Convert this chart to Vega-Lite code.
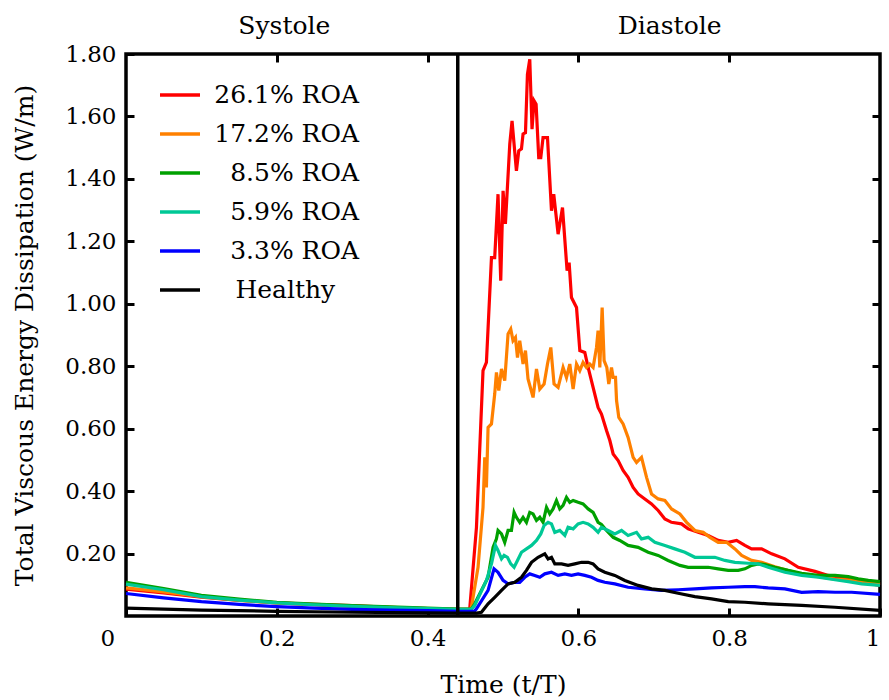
{
  "$schema": "https://vega.github.io/schema/vega-lite/v6.json",
  "width": 754,
  "height": 562,
  "autosize": {"type": "none"},
  "padding": {"left": 126, "top": 54, "right": 9, "bottom": 84},
  "background": "white",
  "datasets": {
    "curves": [
      {"s":"26.1% ROA","t":0,"v":0.086},{"s":"26.1% ROA","t":0.05,"v":0.074},{"s":"26.1% ROA","t":0.1,"v":0.060},{"s":"26.1% ROA","t":0.15,"v":0.050},{"s":"26.1% ROA","t":0.2,"v":0.042},{"s":"26.1% ROA","t":0.25,"v":0.037},{"s":"26.1% ROA","t":0.3,"v":0.033},{"s":"26.1% ROA","t":0.35,"v":0.028},{"s":"26.1% ROA","t":0.4,"v":0.024},{"s":"26.1% ROA","t":0.44,"v":0.021},{"s":"26.1% ROA","t":0.455,"v":0.021},
      {"s":"26.1% ROA","t":0.4559,"v":0.024},{"s":"26.1% ROA","t":0.4648,"v":0.284},{"s":"26.1% ROA","t":0.4735,"v":0.786},{"s":"26.1% ROA","t":0.478,"v":0.812},{"s":"26.1% ROA","t":0.4847,"v":1.148},{"s":"26.1% ROA","t":0.489,"v":1.148},{"s":"26.1% ROA","t":0.4934,"v":1.351},{"s":"26.1% ROA","t":0.497,"v":1.074},{"s":"26.1% ROA","t":0.5001,"v":1.362},{"s":"26.1% ROA","t":0.5032,"v":1.256},{"s":"26.1% ROA","t":0.509,"v":1.512},{"s":"26.1% ROA","t":0.512,"v":1.586},{"s":"26.1% ROA","t":0.5178,"v":1.426},{"s":"26.1% ROA","t":0.5209,"v":1.49},{"s":"26.1% ROA","t":0.5245,"v":1.496},{"s":"26.1% ROA","t":0.5266,"v":1.544},{"s":"26.1% ROA","t":0.5298,"v":1.548},{"s":"26.1% ROA","t":0.5324,"v":1.735},{"s":"26.1% ROA","t":0.5355,"v":1.783},{"s":"26.1% ROA","t":0.5385,"v":1.559},{"s":"26.1% ROA","t":0.5412,"v":1.65},{"s":"26.1% ROA","t":0.5439,"v":1.639},{"s":"26.1% ROA","t":0.5474,"v":1.468},{"s":"26.1% ROA","t":0.5501,"v":1.468},{"s":"26.1% ROA","t":0.5531,"v":1.532},{"s":"26.1% ROA","t":0.559,"v":1.532},{"s":"26.1% ROA","t":0.5643,"v":1.298},{"s":"26.1% ROA","t":0.5673,"v":1.351},{"s":"26.1% ROA","t":0.5731,"v":1.223},{"s":"26.1% ROA","t":0.5789,"v":1.308},{"s":"26.1% ROA","t":0.585,"v":1.106},{"s":"26.1% ROA","t":0.5877,"v":1.132},{"s":"26.1% ROA","t":0.5908,"v":1.02},{"s":"26.1% ROA","t":0.5975,"v":0.988},{"s":"26.1% ROA","t":0.6019,"v":0.85},{"s":"26.1% ROA","t":0.6085,"v":0.844},{"s":"26.1% ROA","t":0.6129,"v":0.796},{"s":"26.1% ROA","t":0.6195,"v":0.732},{"s":"26.1% ROA","t":0.6261,"v":0.668},{"s":"26.1% ROA","t":0.6306,"v":0.647},{"s":"26.1% ROA","t":0.6373,"v":0.594},{"s":"26.1% ROA","t":0.6417,"v":0.562},{"s":"26.1% ROA","t":0.6461,"v":0.519},{"s":"26.1% ROA","t":0.6527,"v":0.498},{"s":"26.1% ROA","t":0.6593,"v":0.466},{"s":"26.1% ROA","t":0.6659,"v":0.444},{"s":"26.1% ROA","t":0.6726,"v":0.412},{"s":"26.1% ROA","t":0.6792,"v":0.391},{"s":"26.1% ROA","t":0.6881,"v":0.375},{"s":"26.1% ROA","t":0.697,"v":0.359},{"s":"26.1% ROA","t":0.7058,"v":0.338},{"s":"26.1% ROA","t":0.7147,"v":0.311},{"s":"26.1% ROA","t":0.7235,"v":0.3},{"s":"26.1% ROA","t":0.7368,"v":0.295},{"s":"26.1% ROA","t":0.7456,"v":0.279},{"s":"26.1% ROA","t":0.7588,"v":0.268},{"s":"26.1% ROA","t":0.7721,"v":0.258},{"s":"26.1% ROA","t":0.7854,"v":0.242},{"s":"26.1% ROA","t":0.7987,"v":0.236},{"s":"26.1% ROA","t":0.8098,"v":0.242},{"s":"26.1% ROA","t":0.8208,"v":0.226},{"s":"26.1% ROA","t":0.8297,"v":0.215},{"s":"26.1% ROA","t":0.843,"v":0.215},{"s":"26.1% ROA","t":0.8563,"v":0.199},{"s":"26.1% ROA","t":0.8739,"v":0.183},{"s":"26.1% ROA","t":0.8916,"v":0.156},{"s":"26.1% ROA","t":0.9137,"v":0.143},{"s":"26.1% ROA","t":0.9314,"v":0.13},{"s":"26.1% ROA","t":0.9536,"v":0.119},{"s":"26.1% ROA","t":0.9757,"v":0.108},{"s":"26.1% ROA","t":1.0,"v":0.098},

      {"s":"17.2% ROA","t":0,"v":0.09},{"s":"17.2% ROA","t":0.05,"v":0.077},{"s":"17.2% ROA","t":0.1,"v":0.062},{"s":"17.2% ROA","t":0.15,"v":0.051},{"s":"17.2% ROA","t":0.2,"v":0.042},{"s":"17.2% ROA","t":0.25,"v":0.036},{"s":"17.2% ROA","t":0.3,"v":0.031},{"s":"17.2% ROA","t":0.35,"v":0.027},{"s":"17.2% ROA","t":0.4,"v":0.023},{"s":"17.2% ROA","t":0.44,"v":0.021},{"s":"17.2% ROA","t":0.457,"v":0.021},
      {"s":"17.2% ROA","t":0.4581,"v":0.028},{"s":"17.2% ROA","t":0.4669,"v":0.156},{"s":"17.2% ROA","t":0.4735,"v":0.348},{"s":"17.2% ROA","t":0.4758,"v":0.508},{"s":"17.2% ROA","t":0.478,"v":0.412},{"s":"17.2% ROA","t":0.4802,"v":0.604},{"s":"17.2% ROA","t":0.4847,"v":0.615},{"s":"17.2% ROA","t":0.489,"v":0.711},{"s":"17.2% ROA","t":0.4913,"v":0.78},{"s":"17.2% ROA","t":0.4944,"v":0.722},{"s":"17.2% ROA","t":0.498,"v":0.791},{"s":"17.2% ROA","t":0.5023,"v":0.754},{"s":"17.2% ROA","t":0.5067,"v":0.903},{"s":"17.2% ROA","t":0.5103,"v":0.919},{"s":"17.2% ROA","t":0.5133,"v":0.882},{"s":"17.2% ROA","t":0.5165,"v":0.892},{"s":"17.2% ROA","t":0.5192,"v":0.828},{"s":"17.2% ROA","t":0.5222,"v":0.882},{"s":"17.2% ROA","t":0.5266,"v":0.807},{"s":"17.2% ROA","t":0.5298,"v":0.85},{"s":"17.2% ROA","t":0.5332,"v":0.759},{"s":"17.2% ROA","t":0.5399,"v":0.7},{"s":"17.2% ROA","t":0.5444,"v":0.791},{"s":"17.2% ROA","t":0.5488,"v":0.727},{"s":"17.2% ROA","t":0.5545,"v":0.743},{"s":"17.2% ROA","t":0.559,"v":0.807},{"s":"17.2% ROA","t":0.5634,"v":0.86},{"s":"17.2% ROA","t":0.5677,"v":0.743},{"s":"17.2% ROA","t":0.5731,"v":0.732},{"s":"17.2% ROA","t":0.5797,"v":0.796},{"s":"17.2% ROA","t":0.5842,"v":0.764},{"s":"17.2% ROA","t":0.5886,"v":0.807},{"s":"17.2% ROA","t":0.593,"v":0.727},{"s":"17.2% ROA","t":0.5975,"v":0.807},{"s":"17.2% ROA","t":0.6019,"v":0.786},{"s":"17.2% ROA","t":0.6062,"v":0.812},{"s":"17.2% ROA","t":0.6107,"v":0.796},{"s":"17.2% ROA","t":0.6151,"v":0.807},{"s":"17.2% ROA","t":0.6195,"v":0.796},{"s":"17.2% ROA","t":0.624,"v":0.86},{"s":"17.2% ROA","t":0.6261,"v":0.914},{"s":"17.2% ROA","t":0.6284,"v":0.796},{"s":"17.2% ROA","t":0.6315,"v":0.988},{"s":"17.2% ROA","t":0.6341,"v":0.818},{"s":"17.2% ROA","t":0.6377,"v":0.796},{"s":"17.2% ROA","t":0.6403,"v":0.743},{"s":"17.2% ROA","t":0.6439,"v":0.796},{"s":"17.2% ROA","t":0.6461,"v":0.764},{"s":"17.2% ROA","t":0.6492,"v":0.764},{"s":"17.2% ROA","t":0.6506,"v":0.69},{"s":"17.2% ROA","t":0.6536,"v":0.636},{"s":"17.2% ROA","t":0.6593,"v":0.615},{"s":"17.2% ROA","t":0.6659,"v":0.572},{"s":"17.2% ROA","t":0.6726,"v":0.508},{"s":"17.2% ROA","t":0.6771,"v":0.492},{"s":"17.2% ROA","t":0.6837,"v":0.508},{"s":"17.2% ROA","t":0.6904,"v":0.444},{"s":"17.2% ROA","t":0.697,"v":0.391},{"s":"17.2% ROA","t":0.7058,"v":0.375},{"s":"17.2% ROA","t":0.7147,"v":0.37},{"s":"17.2% ROA","t":0.7235,"v":0.343},{"s":"17.2% ROA","t":0.7346,"v":0.327},{"s":"17.2% ROA","t":0.7435,"v":0.3},{"s":"17.2% ROA","t":0.7545,"v":0.274},{"s":"17.2% ROA","t":0.7655,"v":0.268},{"s":"17.2% ROA","t":0.7744,"v":0.252},{"s":"17.2% ROA","t":0.7854,"v":0.236},{"s":"17.2% ROA","t":0.7966,"v":0.236},{"s":"17.2% ROA","t":0.8076,"v":0.215},{"s":"17.2% ROA","t":0.8165,"v":0.194},{"s":"17.2% ROA","t":0.8297,"v":0.178},{"s":"17.2% ROA","t":0.843,"v":0.172},{"s":"17.2% ROA","t":0.8607,"v":0.158},{"s":"17.2% ROA","t":0.878,"v":0.146},{"s":"17.2% ROA","t":0.896,"v":0.134},{"s":"17.2% ROA","t":0.918,"v":0.126},{"s":"17.2% ROA","t":0.94,"v":0.118},{"s":"17.2% ROA","t":0.962,"v":0.114},{"s":"17.2% ROA","t":0.984,"v":0.107},{"s":"17.2% ROA","t":1.0,"v":0.102},

      {"s":"8.5% ROA","t":0,"v":0.108},{"s":"8.5% ROA","t":0.05,"v":0.088},{"s":"8.5% ROA","t":0.1,"v":0.066},{"s":"8.5% ROA","t":0.15,"v":0.054},{"s":"8.5% ROA","t":0.2,"v":0.044},{"s":"8.5% ROA","t":0.25,"v":0.038},{"s":"8.5% ROA","t":0.3,"v":0.033},{"s":"8.5% ROA","t":0.35,"v":0.029},{"s":"8.5% ROA","t":0.4,"v":0.025},{"s":"8.5% ROA","t":0.44,"v":0.022},{"s":"8.5% ROA","t":0.458,"v":0.022},
      {"s":"8.5% ROA","t":0.4625,"v":0.039},{"s":"8.5% ROA","t":0.4802,"v":0.124},{"s":"8.5% ROA","t":0.4868,"v":0.22},{"s":"8.5% ROA","t":0.4913,"v":0.247},{"s":"8.5% ROA","t":0.4934,"v":0.274},{"s":"8.5% ROA","t":0.498,"v":0.263},{"s":"8.5% ROA","t":0.5023,"v":0.236},{"s":"8.5% ROA","t":0.5067,"v":0.274},{"s":"8.5% ROA","t":0.5112,"v":0.274},{"s":"8.5% ROA","t":0.5147,"v":0.332},{"s":"8.5% ROA","t":0.5178,"v":0.316},{"s":"8.5% ROA","t":0.5222,"v":0.3},{"s":"8.5% ROA","t":0.5266,"v":0.316},{"s":"8.5% ROA","t":0.5311,"v":0.3},{"s":"8.5% ROA","t":0.5355,"v":0.332},{"s":"8.5% ROA","t":0.5399,"v":0.327},{"s":"8.5% ROA","t":0.5444,"v":0.306},{"s":"8.5% ROA","t":0.5488,"v":0.316},{"s":"8.5% ROA","t":0.5531,"v":0.3},{"s":"8.5% ROA","t":0.5577,"v":0.348},{"s":"8.5% ROA","t":0.562,"v":0.327},{"s":"8.5% ROA","t":0.5664,"v":0.343},{"s":"8.5% ROA","t":0.5709,"v":0.37},{"s":"8.5% ROA","t":0.5753,"v":0.343},{"s":"8.5% ROA","t":0.5797,"v":0.354},{"s":"8.5% ROA","t":0.5842,"v":0.38},{"s":"8.5% ROA","t":0.5886,"v":0.364},{"s":"8.5% ROA","t":0.593,"v":0.37},{"s":"8.5% ROA","t":0.5996,"v":0.364},{"s":"8.5% ROA","t":0.6062,"v":0.359},{"s":"8.5% ROA","t":0.6129,"v":0.343},{"s":"8.5% ROA","t":0.6195,"v":0.332},{"s":"8.5% ROA","t":0.6261,"v":0.3},{"s":"8.5% ROA","t":0.6306,"v":0.293},{"s":"8.5% ROA","t":0.6373,"v":0.274},{"s":"8.5% ROA","t":0.6461,"v":0.252},{"s":"8.5% ROA","t":0.6549,"v":0.242},{"s":"8.5% ROA","t":0.6659,"v":0.226},{"s":"8.5% ROA","t":0.6792,"v":0.22},{"s":"8.5% ROA","t":0.6925,"v":0.204},{"s":"8.5% ROA","t":0.7058,"v":0.194},{"s":"8.5% ROA","t":0.719,"v":0.178},{"s":"8.5% ROA","t":0.7346,"v":0.162},{"s":"8.5% ROA","t":0.7456,"v":0.156},{"s":"8.5% ROA","t":0.7588,"v":0.156},{"s":"8.5% ROA","t":0.7721,"v":0.156},{"s":"8.5% ROA","t":0.7854,"v":0.151},{"s":"8.5% ROA","t":0.7987,"v":0.146},{"s":"8.5% ROA","t":0.812,"v":0.146},{"s":"8.5% ROA","t":0.8208,"v":0.151},{"s":"8.5% ROA","t":0.8297,"v":0.162},{"s":"8.5% ROA","t":0.8385,"v":0.167},{"s":"8.5% ROA","t":0.8474,"v":0.165},{"s":"8.5% ROA","t":0.8607,"v":0.156},{"s":"8.5% ROA","t":0.8783,"v":0.146},{"s":"8.5% ROA","t":0.8961,"v":0.137},{"s":"8.5% ROA","t":0.9181,"v":0.13},{"s":"8.5% ROA","t":0.9403,"v":0.13},{"s":"8.5% ROA","t":0.9579,"v":0.126},{"s":"8.5% ROA","t":0.9712,"v":0.119},{"s":"8.5% ROA","t":0.9845,"v":0.114},{"s":"8.5% ROA","t":1.0,"v":0.11},

      {"s":"5.9% ROA","t":0,"v":0.102},{"s":"5.9% ROA","t":0.05,"v":0.084},{"s":"5.9% ROA","t":0.1,"v":0.062},{"s":"5.9% ROA","t":0.15,"v":0.051},{"s":"5.9% ROA","t":0.2,"v":0.042},{"s":"5.9% ROA","t":0.25,"v":0.036},{"s":"5.9% ROA","t":0.3,"v":0.031},{"s":"5.9% ROA","t":0.35,"v":0.027},{"s":"5.9% ROA","t":0.4,"v":0.024},{"s":"5.9% ROA","t":0.44,"v":0.021},{"s":"5.9% ROA","t":0.458,"v":0.021},
      {"s":"5.9% ROA","t":0.4625,"v":0.034},{"s":"5.9% ROA","t":0.478,"v":0.114},{"s":"5.9% ROA","t":0.4847,"v":0.167},{"s":"5.9% ROA","t":0.49,"v":0.226},{"s":"5.9% ROA","t":0.4934,"v":0.21},{"s":"5.9% ROA","t":0.498,"v":0.183},{"s":"5.9% ROA","t":0.5014,"v":0.194},{"s":"5.9% ROA","t":0.5059,"v":0.188},{"s":"5.9% ROA","t":0.5103,"v":0.167},{"s":"5.9% ROA","t":0.5147,"v":0.156},{"s":"5.9% ROA","t":0.5192,"v":0.178},{"s":"5.9% ROA","t":0.5245,"v":0.204},{"s":"5.9% ROA","t":0.5311,"v":0.215},{"s":"5.9% ROA","t":0.5378,"v":0.226},{"s":"5.9% ROA","t":0.5444,"v":0.242},{"s":"5.9% ROA","t":0.5501,"v":0.263},{"s":"5.9% ROA","t":0.5545,"v":0.29},{"s":"5.9% ROA","t":0.5598,"v":0.3},{"s":"5.9% ROA","t":0.5643,"v":0.295},{"s":"5.9% ROA","t":0.5687,"v":0.268},{"s":"5.9% ROA","t":0.5753,"v":0.274},{"s":"5.9% ROA","t":0.582,"v":0.258},{"s":"5.9% ROA","t":0.5863,"v":0.284},{"s":"5.9% ROA","t":0.593,"v":0.279},{"s":"5.9% ROA","t":0.5996,"v":0.295},{"s":"5.9% ROA","t":0.6062,"v":0.3},{"s":"5.9% ROA","t":0.6129,"v":0.295},{"s":"5.9% ROA","t":0.6195,"v":0.284},{"s":"5.9% ROA","t":0.6261,"v":0.268},{"s":"5.9% ROA","t":0.6306,"v":0.284},{"s":"5.9% ROA","t":0.6394,"v":0.274},{"s":"5.9% ROA","t":0.6483,"v":0.263},{"s":"5.9% ROA","t":0.6572,"v":0.274},{"s":"5.9% ROA","t":0.6659,"v":0.258},{"s":"5.9% ROA","t":0.6771,"v":0.268},{"s":"5.9% ROA","t":0.6837,"v":0.247},{"s":"5.9% ROA","t":0.6925,"v":0.252},{"s":"5.9% ROA","t":0.7014,"v":0.236},{"s":"5.9% ROA","t":0.7147,"v":0.226},{"s":"5.9% ROA","t":0.7279,"v":0.215},{"s":"5.9% ROA","t":0.7412,"v":0.204},{"s":"5.9% ROA","t":0.7545,"v":0.188},{"s":"5.9% ROA","t":0.7678,"v":0.188},{"s":"5.9% ROA","t":0.781,"v":0.188},{"s":"5.9% ROA","t":0.7943,"v":0.178},{"s":"5.9% ROA","t":0.8076,"v":0.172},{"s":"5.9% ROA","t":0.8252,"v":0.169},{"s":"5.9% ROA","t":0.8385,"v":0.167},{"s":"5.9% ROA","t":0.8517,"v":0.156},{"s":"5.9% ROA","t":0.8739,"v":0.14},{"s":"5.9% ROA","t":0.8961,"v":0.13},{"s":"5.9% ROA","t":0.9181,"v":0.124},{"s":"5.9% ROA","t":0.9403,"v":0.116},{"s":"5.9% ROA","t":0.9579,"v":0.11},{"s":"5.9% ROA","t":0.9757,"v":0.103},{"s":"5.9% ROA","t":1.0,"v":0.098},

      {"s":"3.3% ROA","t":0,"v":0.072},{"s":"3.3% ROA","t":0.05,"v":0.058},{"s":"3.3% ROA","t":0.1,"v":0.046},{"s":"3.3% ROA","t":0.15,"v":0.037},{"s":"3.3% ROA","t":0.2,"v":0.03},{"s":"3.3% ROA","t":0.25,"v":0.025},{"s":"3.3% ROA","t":0.3,"v":0.021},{"s":"3.3% ROA","t":0.35,"v":0.019},{"s":"3.3% ROA","t":0.4,"v":0.017},{"s":"3.3% ROA","t":0.44,"v":0.015},{"s":"3.3% ROA","t":0.462,"v":0.015},
      {"s":"3.3% ROA","t":0.4648,"v":0.023},{"s":"3.3% ROA","t":0.4802,"v":0.082},{"s":"3.3% ROA","t":0.4881,"v":0.151},{"s":"3.3% ROA","t":0.4934,"v":0.14},{"s":"3.3% ROA","t":0.5001,"v":0.114},{"s":"3.3% ROA","t":0.5067,"v":0.103},{"s":"3.3% ROA","t":0.5156,"v":0.108},{"s":"3.3% ROA","t":0.5222,"v":0.108},{"s":"3.3% ROA","t":0.5289,"v":0.124},{"s":"3.3% ROA","t":0.5355,"v":0.135},{"s":"3.3% ROA","t":0.5421,"v":0.13},{"s":"3.3% ROA","t":0.5488,"v":0.124},{"s":"3.3% ROA","t":0.5554,"v":0.135},{"s":"3.3% ROA","t":0.5643,"v":0.14},{"s":"3.3% ROA","t":0.5731,"v":0.13},{"s":"3.3% ROA","t":0.582,"v":0.135},{"s":"3.3% ROA","t":0.5908,"v":0.13},{"s":"3.3% ROA","t":0.5996,"v":0.135},{"s":"3.3% ROA","t":0.6085,"v":0.13},{"s":"3.3% ROA","t":0.6174,"v":0.124},{"s":"3.3% ROA","t":0.6261,"v":0.114},{"s":"3.3% ROA","t":0.635,"v":0.108},{"s":"3.3% ROA","t":0.6483,"v":0.103},{"s":"3.3% ROA","t":0.6659,"v":0.092},{"s":"3.3% ROA","t":0.6881,"v":0.087},{"s":"3.3% ROA","t":0.7103,"v":0.082},{"s":"3.3% ROA","t":0.7323,"v":0.084},{"s":"3.3% ROA","t":0.7545,"v":0.087},{"s":"3.3% ROA","t":0.7766,"v":0.09},{"s":"3.3% ROA","t":0.7987,"v":0.092},{"s":"3.3% ROA","t":0.8208,"v":0.094},{"s":"3.3% ROA","t":0.8341,"v":0.094},{"s":"3.3% ROA","t":0.8517,"v":0.09},{"s":"3.3% ROA","t":0.8739,"v":0.087},{"s":"3.3% ROA","t":0.8961,"v":0.076},{"s":"3.3% ROA","t":0.9181,"v":0.078},{"s":"3.3% ROA","t":0.9403,"v":0.076},{"s":"3.3% ROA","t":0.9624,"v":0.076},{"s":"3.3% ROA","t":1.0,"v":0.069},

      {"s":"Healthy","t":0,"v":0.025},{"s":"Healthy","t":0.1,"v":0.019},{"s":"Healthy","t":0.2,"v":0.015},{"s":"Healthy","t":0.3,"v":0.012},{"s":"Healthy","t":0.4,"v":0.01},{"s":"Healthy","t":0.44,"v":0.009},{"s":"Healthy","t":0.465,"v":0.009},
      {"s":"Healthy","t":0.4714,"v":0.012},{"s":"Healthy","t":0.4802,"v":0.039},{"s":"Healthy","t":0.489,"v":0.06},{"s":"Healthy","t":0.498,"v":0.082},{"s":"Healthy","t":0.5067,"v":0.103},{"s":"Healthy","t":0.5156,"v":0.108},{"s":"Healthy","t":0.5245,"v":0.124},{"s":"Healthy","t":0.5311,"v":0.146},{"s":"Healthy","t":0.5378,"v":0.172},{"s":"Healthy","t":0.5465,"v":0.188},{"s":"Healthy","t":0.5554,"v":0.199},{"s":"Healthy","t":0.5598,"v":0.183},{"s":"Healthy","t":0.5643,"v":0.188},{"s":"Healthy","t":0.5687,"v":0.167},{"s":"Healthy","t":0.5776,"v":0.167},{"s":"Healthy","t":0.5863,"v":0.162},{"s":"Healthy","t":0.5952,"v":0.167},{"s":"Healthy","t":0.6041,"v":0.172},{"s":"Healthy","t":0.6129,"v":0.172},{"s":"Healthy","t":0.6195,"v":0.167},{"s":"Healthy","t":0.6261,"v":0.151},{"s":"Healthy","t":0.635,"v":0.14},{"s":"Healthy","t":0.6483,"v":0.13},{"s":"Healthy","t":0.6616,"v":0.114},{"s":"Healthy","t":0.6792,"v":0.098},{"s":"Healthy","t":0.697,"v":0.087},{"s":"Healthy","t":0.7147,"v":0.082},{"s":"Healthy","t":0.7323,"v":0.073},{"s":"Healthy","t":0.7545,"v":0.062},{"s":"Healthy","t":0.7766,"v":0.055},{"s":"Healthy","t":0.7987,"v":0.046},{"s":"Healthy","t":0.8208,"v":0.044},{"s":"Healthy","t":0.8517,"v":0.039},{"s":"Healthy","t":0.8961,"v":0.034},{"s":"Healthy","t":0.9403,"v":0.028},{"s":"Healthy","t":1.0,"v":0.018}
    ],
    "divider": [{"t": 0.44}],
    "phases": [
      {"t": 0.21, "v": 1.8896, "label": "Systole"},
      {"t": 0.721, "v": 1.8896, "label": "Diastole"}
    ]
  },
  "layer": [
    {
      "data": {"name": "curves"},
      "mark": {"type": "line", "strokeWidth": 3.2, "clip": false},
      "encoding": {
        "x": {"field": "t", "type": "quantitative", "scale": {"domain": [0, 1], "nice": false},
          "axis": {"orient": "bottom", "values": [0, 0.2, 0.4, 0.6, 0.8, 1], "format": "~g", "title": "Time (t/T)",
            "labelBaseline": "top", "labelPadding": 19, "titlePadding": 22,
            "labelOffset": {"condition": {"test": "datum.value === 0", "value": -26}, "value": 0}}},
        "y": {"field": "v", "type": "quantitative", "scale": {"domain": [0, 1.8], "nice": false, "zero": false},
          "axis": {"orient": "left", "values": [0.2, 0.4, 0.6, 0.8, 1.0, 1.2, 1.4, 1.6, 1.8], "format": ".2f",
            "title": "Total Viscous Energy Dissipation (W/m)", "labelPadding": 18, "titlePadding": 27}},
        "color": {"field": "s", "type": "nominal",
          "scale": {"domain": ["26.1% ROA", "17.2% ROA", "8.5% ROA", "5.9% ROA", "3.3% ROA", "Healthy"],
                    "range": ["#ff0000", "#ff8000", "#00a000", "#00c896", "#0000ff", "#000000"]},
          "legend": {"title": null, "orient": "none", "legendX": 32, "legendY": 19,
            "labelAlign": "right", "labelOffset": 157,
            "labelExpr": "datum.label == 'Healthy' ? 'Healthy\u00a0\u00a0\u00a0\u200b' : datum.label"}}
      }
    },
    {
      "data": {"name": "divider"},
      "mark": {"type": "rule", "strokeWidth": 3.5, "color": "black"},
      "encoding": {
        "x": {"field": "t", "type": "quantitative", "scale": {"domain": [0, 1], "nice": false},
          "axis": {"orient": "top", "values": [0.2, 0.4, 0.6, 0.8], "labels": false, "title": null}}
      }
    },
    {
      "data": {"name": "phases"},
      "mark": {"type": "text", "fontSize": 25, "font": "DejaVu Serif", "baseline": "middle", "align": "center", "color": "black", "clip": false},
      "encoding": {
        "x": {"field": "t", "type": "quantitative", "scale": {"domain": [0, 1], "nice": false}, "axis": null},
        "y": {"field": "v", "type": "quantitative", "scale": {"domain": [0, 1.8], "nice": false, "zero": false},
          "axis": {"orient": "right", "values": [0.2, 0.4, 0.6, 0.8, 1.0, 1.2, 1.4, 1.6], "labels": false, "title": null}},
        "text": {"field": "label"}
      }
    }
  ],
  "resolve": {"axis": {"x": "independent", "y": "independent"}},
  "config": {
    "font": "DejaVu Serif",
    "view": {"stroke": "black", "strokeWidth": 3.5},
    "axis": {"domain": false, "grid": false, "ticks": true, "tickSize": -8, "tickWidth": 3, "tickColor": "black",
      "labelFont": "DejaVu Serif", "labelFontSize": 23, "labelColor": "black",
      "titleFont": "DejaVu Serif", "titleFontSize": 25, "titleFontWeight": "normal", "titleColor": "black"},
    "legend": {"symbolType": "stroke", "symbolSize": 1600, "symbolStrokeWidth": 3.5, "labelFont": "DejaVu Serif",
      "labelFontSize": 25, "labelColor": "black", "rowPadding": 4, "padding": 0, "labelLimit": 400}
  }
}
